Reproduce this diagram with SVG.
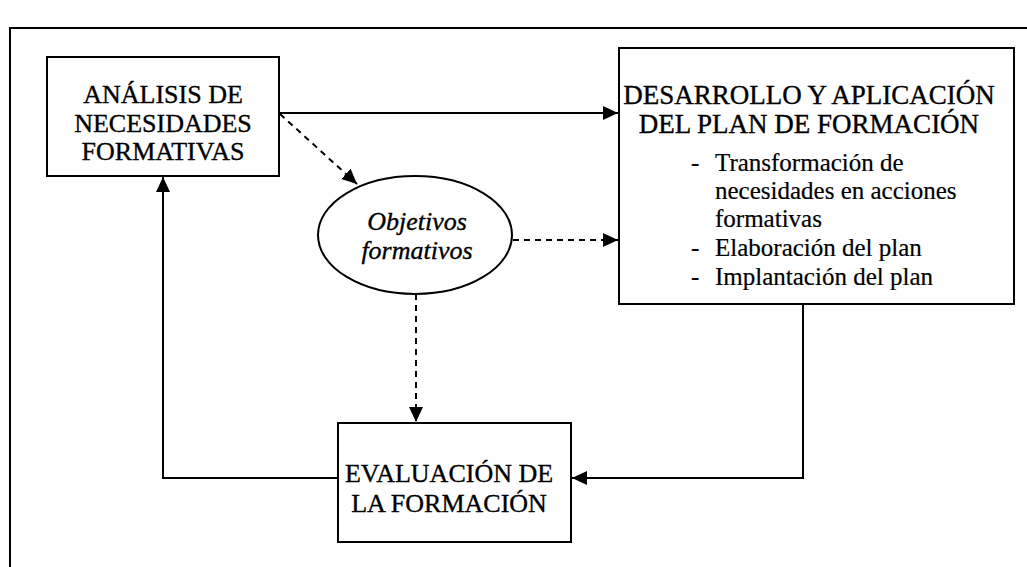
<svg xmlns="http://www.w3.org/2000/svg" width="1027" height="567" viewBox="0 0 1027 567">
<style>
  .box { fill: #ffffff; stroke: #000000; stroke-width: 2; }
  .t { font-family: 'Liberation Serif', 'Times New Roman', serif; font-size: 26px; fill: #000000; stroke: #000000; stroke-width: 0.35; }
  .h { font-size: 27px; }
  .li { font-size: 25px; stroke-width: 0.2; }
  .c { text-anchor: middle; }
  .it { font-style: italic; }
  .ln { fill: none; stroke: #000000; stroke-width: 2; }
  .dash { stroke-dasharray: 6 5; }
</style>
<defs>
  <marker id="arr" markerUnits="userSpaceOnUse" markerWidth="16" markerHeight="16" refX="15" refY="7" orient="auto">
    <path d="M0,0 L15,7 L0,14 Z" fill="#000000"/>
  </marker>
</defs>
<rect x="0" y="0" width="1027" height="567" fill="#ffffff"/>
<path id="frame" class="ln" d="M10,567 L10,28 L1027,28"/>

<g id="connectors">
  <path class="ln" d="M279,113 L618,113" marker-end="url(#arr)"/>
  <path class="ln dash" d="M280,114 L357,184" marker-end="url(#arr)"/>
  <path class="ln dash" d="M513,240 L618,240" marker-end="url(#arr)"/>
  <path class="ln dash" d="M416,294 L416,422" marker-end="url(#arr)"/>
  <path class="ln" d="M803,304 L803,478 L572,478" marker-end="url(#arr)"/>
  <path class="ln" d="M338,478 L163,478 L163,177" marker-end="url(#arr)"/>
</g>

<g id="analisis">
  <rect class="box" x="47" y="57" width="232" height="119"/>
  <text class="t c" x="163" y="103">ANÁLISIS DE</text>
  <text class="t c" x="163" y="132">NECESIDADES</text>
  <text class="t c" x="163" y="160">FORMATIVAS</text>
</g>

<g id="desarrollo">
  <rect class="box" x="619" y="48" width="395" height="256"/>
  <text class="t h c" x="809" y="104">DESARROLLO Y APLICACIÓN</text>
  <text class="t h c" x="809" y="133">DEL PLAN DE FORMACIÓN</text>
  <text class="t li" x="691" y="171">-</text>
  <text class="t li" x="715" y="171">Transformación de</text>
  <text class="t li" x="715" y="199">necesidades en acciones</text>
  <text class="t li" x="715" y="227">formativas</text>
  <text class="t li" x="691" y="256">-</text>
  <text class="t li" x="715" y="256">Elaboración del plan</text>
  <text class="t li" x="691" y="285">-</text>
  <text class="t li" x="715" y="285">Implantación del plan</text>
</g>

<g id="objetivos">
  <ellipse class="box" cx="415" cy="235" rx="97" ry="59"/>
  <text class="t c it" x="417" y="230">Objetivos</text>
  <text class="t c it" x="417" y="259">formativos</text>
</g>

<g id="evaluacion">
  <rect class="box" x="338" y="423" width="233" height="119"/>
  <text class="t c" x="449" y="482">EVALUACIÓN DE</text>
  <text class="t c" x="449" y="512">LA FORMACIÓN</text>
</g>
</svg>
